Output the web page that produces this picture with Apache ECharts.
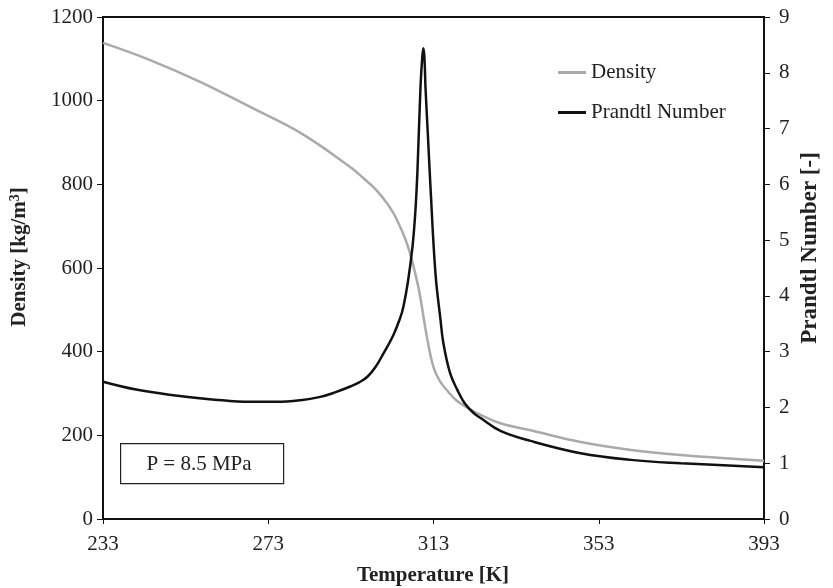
<!DOCTYPE html>
<html>
<head>
<meta charset="utf-8">
<script src="https://cdn.jsdelivr.net/npm/echarts@6/dist/echarts.min.js"></script>
<style>html,body{margin:0;padding:0;background:#fff;}#c{width:833px;height:588px;}</style>
</head>
<body>
<div id="c"></div>
<script>
var xTicks = [233, 273, 313, 353, 393];
var densityT = [233, 244.4, 256.5, 268.6, 280.8, 292.9, 296, 299, 301.5, 303.8, 306.7, 309.1, 309.8, 311.5, 313, 314.5, 316.4, 318.5, 321.2, 324.4, 329.2, 336.5, 348.6, 360.8, 372.9, 393];
var densityV = [1138, 1097, 1045, 985, 923, 841, 815, 788, 758, 722, 655, 565, 530, 430, 363, 330, 306, 284, 266, 249, 229, 212, 184, 165, 153, 139];
var prandtlT = [233, 241, 250, 260, 268.6, 275, 280.8, 285.6, 288.8, 293, 295, 297, 299, 300.9, 303.3, 305, 305.7, 306.8, 307.9, 308.6, 309.12, 309.85, 310.3, 310.58, 310.85, 311.06, 311.7, 312.27, 313.48, 314.7, 315.4, 317, 318.8, 320.5, 322.7, 324.4, 329.2, 336.5, 348.6, 360.8, 372.9, 393];
var prandtlV = [2.46, 2.32, 2.22, 2.14, 2.10, 2.10, 2.13, 2.19, 2.26, 2.38, 2.45, 2.55, 2.73, 2.97, 3.30, 3.62, 3.80, 4.25, 4.87, 5.50, 6.25, 7.74, 8.30, 8.44, 8.20, 7.74, 6.80, 5.95, 4.40, 3.57, 3.15, 2.62, 2.31, 2.08, 1.90, 1.81, 1.58, 1.40, 1.18, 1.06, 1.00, 0.93];

var serif = 'Liberation Serif';
var chart = echarts.init(document.getElementById('c'));
function pairs(xs, ys) { return xs.map(function (x, i) { return [x, ys[i]]; }); }
function plain(v) { return String(v); }

chart.setOption({
  animation: false,
  backgroundColor: '#fff',
  grid: { left: 103, right: 69, top: 17, bottom: 69, show: true, borderColor: '#111', borderWidth: 2, backgroundColor: 'transparent' },
  legend: {
    orient: 'vertical', left: 553, top: 57, itemWidth: 28, itemHeight: 3, itemGap: 19,
    icon: 'rect',
    textStyle: { fontFamily: serif, fontSize: 21, color: '#222' },
    data: ['Density', 'Prandtl Number']
  },
  xAxis: {
    type: 'value', min: 233, max: 393,
    axisLine: { lineStyle: { color: '#111', width: 2 } },
    axisTick: { show: true, length: 5, lineStyle: { color: '#111' }, customValues: xTicks },
    axisLabel: { fontFamily: serif, fontSize: 21, color: '#222', margin: 15, customValues: xTicks, formatter: plain },
    splitLine: { show: false }
  },
  yAxis: [{
    type: 'value', min: 0, max: 1200, interval: 200, position: 'left',
    axisLine: { show: true, lineStyle: { color: '#111', width: 2 } },
    axisTick: { show: true, length: 6, lineStyle: { color: '#111' } },
    axisLabel: { fontFamily: serif, fontSize: 21, color: '#222', margin: 10, formatter: plain },
    splitLine: { show: false }
  }, {
    type: 'value', min: 0, max: 9, interval: 1, position: 'right',
    axisLine: { show: true, lineStyle: { color: '#111', width: 2 } },
    axisTick: { show: true, length: 6, lineStyle: { color: '#111' } },
    axisLabel: { fontFamily: serif, fontSize: 21, color: '#222', margin: 15, formatter: plain },
    splitLine: { show: false }
  }],
  graphic: [{
    type: 'rect', left: 120, top: 443, shape: { width: 163, height: 40 },
    style: { fill: '#fff', stroke: '#222', lineWidth: 1.2 }, z: 10
  }, {
    type: 'text', x: 199, y: 464, z: 11,
    style: { text: 'P = 8.5 MPa', font: '21px "Liberation Serif"', fill: '#222', align: 'center', verticalAlign: 'middle' }
  }, {
    type: 'text', x: 433, y: 576, z: 11,
    style: { text: 'Temperature [K]', font: 'bold 21px "Liberation Serif"', fill: '#222', align: 'center', verticalAlign: 'middle' }
  }, {
    type: 'text', x: 20, y: 257, rotation: Math.PI / 2, z: 11,
    style: {
      text: '{b|Density [kg/m}{s|3}{b|]}', align: 'center', verticalAlign: 'middle',
      rich: {
        b: { fontFamily: serif, fontSize: 21, fontWeight: 'bold', fill: '#222', color: '#222' },
        s: { fontFamily: serif, fontSize: 14, fontWeight: 'bold', fill: '#222', color: '#222', padding: [0, 0, 9, 0] }
      }
    }
  }, {
    type: 'text', x: 810, y: 248, rotation: Math.PI / 2, z: 11,
    style: { text: 'Prandtl Number [-]', font: 'bold 23px "Liberation Serif"', fill: '#222', align: 'center', verticalAlign: 'middle' }
  }],
  series: [{
    name: 'Density', type: 'line', yAxisIndex: 0, showSymbol: false, symbol: 'none',
    smooth: 0.4,
    lineStyle: { color: '#aaaaaa', width: 2.5 }, itemStyle: { color: '#aaaaaa' },
    data: pairs(densityT, densityV)
  }, {
    name: 'Prandtl Number', type: 'line', yAxisIndex: 1, showSymbol: false, symbol: 'none',
    smooth: 0.4,
    lineStyle: { color: '#111111', width: 2.5 }, itemStyle: { color: '#111111' },
    data: pairs(prandtlT, prandtlV)
  }]
});
</script>
</body>
</html>
